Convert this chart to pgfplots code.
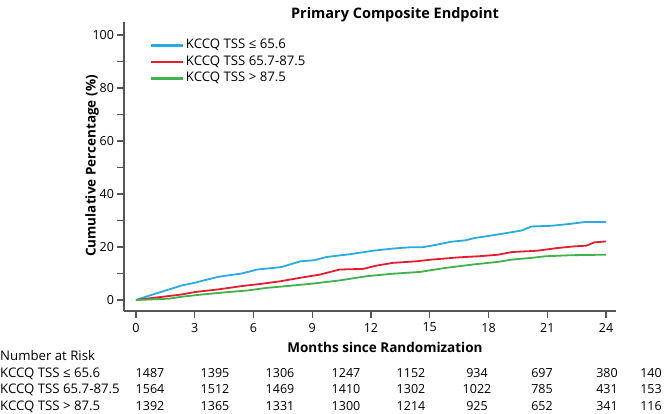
\documentclass[border=0pt]{standalone}
\usepackage{fontspec}
\setmainfont{Open Sans}
\usepackage{pgfplots}
\pgfplotsset{compat=1.18}

\definecolor{kblue}{RGB}{41,171,226}
\definecolor{kred}{RGB}{228,30,48}
\definecolor{kgreen}{RGB}{64,178,75}
\definecolor{axgray}{RGB}{85,85,85}

\newcommand{\tabfont}{\fontsize{12.5}{14}\selectfont}
\newcommand{\rowfont}{\fontsize{13.2}{15}\selectfont}

\begin{document}
\begin{tikzpicture}
\useasboundingbox (-124pt,-102pt) rectangle (542pt,311pt);
\begin{axis}[
    width=492pt, height=289pt, scale only axis,
    xmin=-0.61, xmax=24.51, ymin=-4.15, ymax=104.9,
    axis x line*=bottom, axis y line*=left,
    axis line style={axgray, line width=1.3pt, -},
    xtick={0,3,...,24},
    ytick={0,20,...,100},
    minor ytick={10,30,...,90},
    tick align=outside,
    major tick length=6.5pt, minor tick length=6.5pt,
    every tick/.style={axgray, line width=1.2pt},
    tick label style={font=\tabfont},
    /pgf/number format/assume math mode=true,
    xticklabel style={yshift=-2pt},
    legend style={at={(rel axis cs:0.053,0.945)}, anchor=north west,
        draw=none, fill=none, inner sep=0pt, font=\rowfont,
        row sep=1.5pt,
        nodes={inner sep=1.5pt, text height=9pt, text depth=3pt}},
    legend cell align=left,
    legend image code/.code={\draw[line width=2.2pt] (0pt,0pt) -- (32pt,0pt);},
    every axis plot/.append style={line width=1.8pt},
]
% KCCQ TSS <= 65.6
\addplot[kblue] coordinates {
 (0,0) (1.0,2.4) (2.35,5.5) (3.0,6.5) (4.2,8.75) (5.4,10) (6.2,11.5)
 (7.4,12.4) (8.4,14.6) (9.1,15) (9.75,16.25) (10.9,17.25) (12.1,18.6)
 (13.1,19.4) (14.0,19.9) (14.6,19.9) (15.1,20.5) (16.1,22) (16.8,22.5)
 (17.3,23.4) (18.2,24.4) (19.2,25.6) (19.7,26.25) (20.2,27.75) (21.2,28)
 (22.2,28.75) (22.9,29.4) (24,29.4)
};
% KCCQ TSS 65.7-87.5
\addplot[kred] coordinates {
 (0,0) (1,0.9) (2.35,2.1) (3,3) (4.2,4) (5.4,5.25) (6.4,6.1) (7.4,7.1)
 (8.4,8.4) (9.4,9.6) (10.4,11.5) (11.6,11.75) (12.3,13) (13.1,14)
 (14.3,14.6) (15.1,15.25) (16.5,16.1) (17.5,16.5) (18.5,17.1) (19.2,18.1)
 (20.5,18.6) (21.5,19.6) (22.4,20.25) (23.0,20.5) (23.4,21.75) (24,22.1)
};
% KCCQ TSS > 87.5
\addplot[kgreen] coordinates {
 (0,0) (1.7,0.5) (2.35,1.25) (3.4,2.1) (4.7,3) (5.7,3.6) (6.7,4.6)
 (7.7,5.25) (9.1,6.25) (10.4,7.4) (11.8,9) (13.1,9.9) (14.5,10.6)
 (15.8,12.1) (17.2,13.4) (18.5,14.4) (19.2,15.25) (20.2,15.9) (20.9,16.5)
 (22.2,16.9) (24,17.1)
};
\legend{KCCQ TSS ≤ 65.6, KCCQ TSS 65.7-87.5, KCCQ TSS > 87.5}
\end{axis}

% title and axis labels
\node[font=\fontsize{14.5}{16}\selectfont\bfseries] at (271pt,296pt) {Primary Composite Endpoint};
\node[font=\fontsize{13.5}{15}\selectfont\bfseries, rotate=90] at (-32pt,145pt) {Cumulative Percentage (\%)};
\node[font=\fontsize{13.5}{16}\selectfont\bfseries, anchor=base] at (261pt,-41pt) {Months since Randomization};

% number at risk table
\node[font=\rowfont, anchor=base west, inner sep=0pt] at (-124pt,-49.5pt) {Number at Risk};
\node[font=\rowfont, anchor=base west, inner sep=0pt] at (-124pt,-66pt) {KCCQ TSS ≤ 65.6};
\node[font=\rowfont, anchor=base west, inner sep=0pt] at (-124pt,-82.5pt) {KCCQ TSS 65.7-87.5};
\node[font=\rowfont, anchor=base west, inner sep=0pt] at (-124pt,-99pt) {KCCQ TSS > 87.5};
\foreach \x/\a/\b/\c in {26/1487/1564/1392, 91/1395/1512/1365, 156/1306/1469/1331,
    222/1247/1410/1300, 287/1152/1302/1214, 353/934/1022/925, 418/697/785/652,
    483/380/431/341, 527/140/153/116} {
  \node[font=\tabfont, inner sep=0pt, anchor=base] at (\x pt,-66pt) {\a};
  \node[font=\tabfont, inner sep=0pt, anchor=base] at (\x pt,-82.5pt) {\b};
  \node[font=\tabfont, inner sep=0pt, anchor=base] at (\x pt,-99pt) {\c};
}
\end{tikzpicture}
\end{document}
